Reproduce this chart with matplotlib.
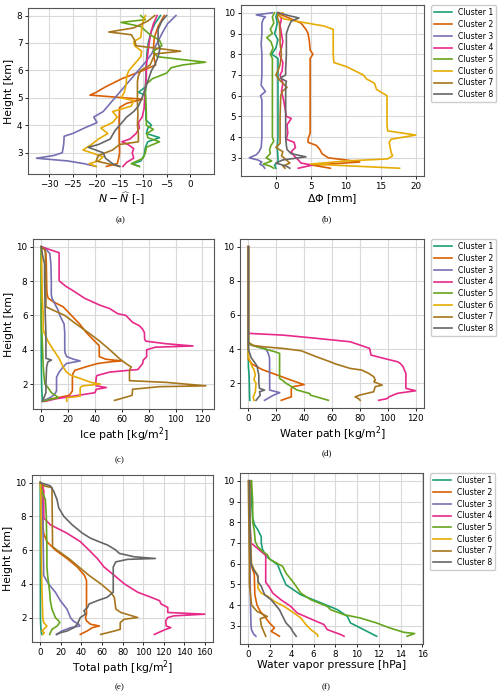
import matplotlib
matplotlib.use('Agg')
import matplotlib.pyplot as plt

# Dark2 palette, one colour per cluster
COLORS = ['#1b9e77', '#d95f02', '#7570b3', '#e7298a',
          '#66a61e', '#e6ab02', '#a6761d', '#666666']
CLUSTERS = ['Cluster %d' % i for i in range(1, 9)]

# (a) N - N_hat [-]
NDIFF_H = [
    [8.0, 7.7, 7.4, 7.0, 6.6, 6.2, 5.8, 5.4, 5.2, 5.1, 4.9, 4.5, 4.2, 4.0, 3.9, 3.7, 3.55, 3.4, 3.2, 2.9, 2.7, 2.6, 2.5],
    [8.0, 7.6, 7.2, 6.8, 6.4, 6.2, 6.0, 5.7, 5.4, 5.2, 5.1, 4.95, 4.8, 4.65, 4.2, 3.5, 3.0, 2.8, 2.6, 2.5],
    [8.0, 7.7, 7.4, 7.0, 6.6, 6.3, 6.0, 5.7, 5.4, 5.1, 4.8, 4.5, 4.3, 4.1, 3.9, 3.7, 3.6, 3.3, 3.0, 2.9, 2.8, 2.7, 2.6, 2.5],
    [8.0, 7.7, 7.4, 7.0, 6.6, 6.2, 5.8, 5.4, 5.0, 4.6, 4.3, 4.1, 3.9, 3.7, 3.5, 3.4, 3.3, 3.15, 3.0, 2.8, 2.65, 2.5],
    [8.0, 7.85, 7.75, 7.6, 7.3, 7.1, 6.9, 6.7, 6.5, 6.3, 6.2, 6.1, 5.9, 5.7, 5.5, 5.2, 4.8, 4.4, 4.0, 3.85, 3.7, 3.55, 3.4, 3.2, 3.0, 2.8, 2.6, 2.5],
    [8.0, 7.8, 7.5, 7.2, 7.05, 6.9, 6.7, 6.5, 6.3, 6.0, 5.8, 5.5, 5.2, 5.0, 4.9, 4.7, 4.5, 4.3, 4.1, 3.9, 3.7, 3.5, 3.3, 3.1, 3.0, 2.85, 2.7, 2.6, 2.5],
    [8.0, 7.8, 7.55, 7.4, 7.3, 7.1, 6.9, 6.7, 6.6, 6.4, 6.2, 6.0, 5.8, 5.6, 5.2, 4.8, 4.4, 4.0, 3.7, 3.4, 3.3, 3.1, 2.9, 2.7, 2.6, 2.5],
    [8.0, 7.8, 7.5, 7.0, 6.8, 6.5, 6.2, 6.0, 5.5, 5.1, 4.7, 4.5, 4.3, 4.0, 3.8, 3.5, 3.3, 3.2, 3.0, 2.8, 2.6, 2.5],
]
NDIFF_X = [
    [-6.3, -7.5, -8.3, -8.9, -9.2, -9.3, -9.4, -9.5, -11.0, -9.5, -9.5, -9.4, -9.4, -8.2, -9.0, -9.3, -6.5, -9.0, -9.5, -9.8, -10.5, -12.3, -10.8],
    [-5.5, -6.8, -7.6, -7.8, -7.6, -7.3, -10.0, -14.5, -18.0, -20.0, -21.3, -10.1, -13.5, -15.0, -15.1, -15.1, -15.0, -15.2, -15.5, -17.8],
    [-3.0, -4.8, -5.8, -7.0, -8.2, -9.5, -11.0, -12.5, -14.0, -15.5, -17.0, -18.5, -20.5, -19.8, -22.5, -25.0, -26.8, -26.9, -27.2, -29.0, -32.7, -26.0, -22.5, -20.0],
    [-7.0, -7.8, -8.3, -8.7, -9.0, -9.3, -9.3, -9.5, -9.6, -9.8, -10.2, -11.0, -10.8, -11.5, -12.8, -14.5, -13.2, -12.0, -12.3, -12.0, -13.5, -14.3],
    [-10.5, -9.5, -14.7, -10.5, -8.5, -6.5, -6.0, -7.8, -7.0, 3.3, -1.5, -4.0, -5.0, -8.0, -9.3, -9.5, -9.4, -9.3, -9.3, -7.8, -9.2, -9.0, -6.5, -9.3, -9.5, -10.0, -12.5, -10.8],
    [-9.5, -10.0, -10.3, -10.5, -12.0, -11.8, -10.3, -10.5, -11.5, -13.0, -13.5, -13.6, -14.0, -14.7, -12.0, -12.5, -16.5, -15.5, -16.5, -19.0, -17.5, -19.5, -21.0, -22.8, -21.0, -18.5, -19.5, -21.5, -20.0],
    [-7.5, -9.0, -12.0, -17.3, -12.5, -11.8, -11.5, -2.0, -7.5, -8.0, -8.5, -10.5, -11.0, -11.2, -11.2, -11.2, -11.1, -11.2, -11.0, -11.0, -15.0, -16.5, -19.5, -20.0, -17.5, -15.0],
    [-5.0, -6.0, -6.8, -6.8, -6.4, -6.8, -7.5, -8.2, -9.2, -10.0, -11.0, -12.0, -13.5, -15.0, -16.0, -17.0, -19.5, -21.7, -18.5, -18.0, -16.5, -15.0],
]

# (b) Delta Phi [mm]
DPHI_H = [
    [10.0, 9.8, 9.5, 9.2, 9.0, 8.7, 8.3, 8.0, 7.8, 7.5, 7.0, 6.0, 5.0, 4.0, 3.5, 3.0, 2.8, 2.65, 2.5],
    [10.0, 9.9, 9.7, 9.5, 9.2, 9.0, 8.6, 8.2, 8.0, 7.8, 7.0, 6.0, 5.0, 4.2, 3.9, 3.75, 3.6, 3.4, 3.2, 3.0, 2.9, 2.8, 2.65, 2.5],
    [10.0, 9.9, 9.8, 9.7, 9.5, 9.0, 8.5, 8.0, 7.0, 6.5, 6.2, 6.0, 5.8, 5.0, 4.0, 3.5, 3.3, 3.15, 3.0, 2.9, 2.8, 2.7, 2.6, 2.5],
    [10.0, 9.7, 9.4, 9.0, 8.6, 8.3, 8.0, 7.6, 7.2, 7.0, 6.6, 6.2, 5.8, 5.4, 5.0, 4.9, 4.6, 4.2, 3.9, 3.75, 3.5, 3.3, 3.1, 2.9, 2.75, 2.65, 2.5],
    [10.0, 9.8, 9.5, 9.2, 9.0, 8.8, 8.6, 8.3, 8.0, 7.8, 7.5, 7.0, 6.0, 5.0, 4.0, 3.8, 3.6, 3.4, 3.2, 3.0, 2.85, 2.7, 2.6, 2.5],
    [10.0, 9.9, 9.7, 9.5, 9.36, 9.2, 8.5, 8.0, 7.6, 7.4, 7.0, 6.8, 6.6, 6.3, 6.0, 5.0, 4.55, 4.3, 4.1, 3.9, 3.75, 3.25, 3.1, 2.95, 2.85, 2.7, 2.5],
    [10.0, 9.8, 9.5, 9.0, 8.5, 8.0, 7.5, 7.2, 7.0, 6.8, 6.6, 6.4, 6.2, 6.0, 5.0, 4.0, 3.7, 3.5, 3.3, 3.1, 2.9, 2.75, 2.6, 2.5],
    [10.0, 9.85, 9.75, 9.6, 9.3, 9.0, 8.0, 7.3, 7.0, 6.85, 6.7, 6.5, 6.0, 5.0, 4.0, 3.6, 3.4, 3.2, 3.05, 2.9, 2.75, 2.6, 2.5],
]
DPHI_X = [
    [0.2, 0.0, 0.2, 0.0, -0.2, 0.3, 0.0, -0.6, 0.3, 0.3, 0.3, 0.3, 0.3, 0.3, 0.2, 0.3, 0.3, -0.2, 0.0],
    [0.3, 0.8, 2.2, 3.6, 4.3, 4.6, 4.8, 4.9, 5.3, 4.9, 4.9, 4.9, 4.9, 4.9, 4.6, 4.6, 5.8, 6.3, 6.6, 7.5, 10.0, 12.0, 5.2, 7.8],
    [-0.5, -2.8, -1.5, -1.8, -2.0, -2.0, -2.1, -2.0, -2.0, -2.1, -1.5, -2.2, -2.0, -2.0, -2.0, -2.1, -2.4, -2.8, -3.8, -2.6, -2.0, -2.3, -1.8, -1.6],
    [0.3, 0.8, 0.6, 0.8, 1.0, 0.8, 0.5, 1.0, 0.9, 0.6, 1.0, 0.8, 1.1, 1.3, 1.5, 2.2, 1.6, 1.7, 1.5, 2.6, 2.8, 2.2, 2.6, 3.2, 3.6, 5.2, 3.2],
    [-0.2, -0.5, -0.3, -0.8, -0.5, -1.3, -0.7, -0.4, -0.8, -0.5, -0.5, -0.5, -0.5, -0.5, -0.5, -0.3, -0.7, -0.9, -0.8, -1.4, -0.6, -1.8, -0.8, -0.3],
    [1.0, 0.3, 1.2, 4.5, 6.9, 8.2, 8.2, 8.2, 8.3, 10.1, 12.5, 13.0, 14.1, 14.4, 15.9, 15.9, 15.9, 16.0, 20.0, 16.5, 16.2, 16.5, 16.7, 16.0, 10.0, 5.0, 17.7],
    [0.5, 0.2, 0.5, 0.6, 0.6, 0.8, 0.6, 0.3, 0.0, 0.4, 1.0, 1.6, 0.9, 0.7, 0.6, 0.6, 0.6, 0.0, 1.0, 0.8, 1.5, 2.0, 1.0, 1.3],
    [0.3, 2.0, 3.3, 2.2, 1.8, 1.5, 1.5, 1.4, 1.4, 0.6, 1.5, 1.4, 1.4, 1.4, 1.4, 1.5, 1.6, 2.2, 4.3, 1.0, 0.0, 1.5, 2.0],
]

# (c) Ice path [kg/m2]
ICE_H = [
    [10, 8, 6, 5, 4, 3, 2, 1.5, 1.2, 1.0],
    [10.0, 9.85, 9.6, 9.0, 8.0, 7.4, 7.2, 7.0, 6.8, 6.5, 6.0, 5.5, 5.0, 4.5, 4.25, 4.2, 3.6, 3.45, 3.35, 3.3, 3.2, 3.0, 2.8, 2.6, 2.3, 1.6, 1.35, 1.25, 1.15, 1.05, 1.0],
    [10.0, 9.9, 9.6, 9.0, 8.0, 7.2, 7.0, 6.7, 6.3, 6.0, 5.5, 5.0, 4.5, 4.0, 3.8, 3.6, 3.45, 3.35, 3.2, 3.0, 2.7, 2.4, 2.0, 1.6, 1.4, 1.2, 1.05, 1.0],
    [10.0, 9.65, 8.1, 8.0, 7.67, 7.5, 7.0, 6.6, 6.4, 6.1, 6.0, 5.6, 5.4, 5.2, 5.0, 4.6, 4.5, 4.35, 4.22, 4.15, 4.0, 3.6, 3.4, 3.2, 2.85, 2.7, 2.5, 2.4, 2.0, 1.9, 1.8, 1.7, 1.5, 1.3, 1.15, 1.0],
    [10, 8, 6, 5.2, 5.0, 4.0, 3.0, 2.5, 2.0, 1.8, 1.5, 1.3, 1.2, 1.1, 1.0],
    [10.0, 9.5, 9.0, 8.0, 7.0, 6.0, 5.2, 5.0, 4.5, 4.0, 3.5, 3.0, 2.7, 2.5, 2.3, 2.1, 2.0, 1.9, 1.8, 1.3, 1.2, 1.0],
    [10.0, 9.8, 9.0, 8.0, 7.0, 6.5, 6.3, 6.0, 5.5, 5.0, 4.5, 4.0, 3.5, 3.2, 3.0, 2.8, 2.2, 2.1, 1.9, 1.85, 1.7, 1.35, 1.3, 1.05],
    [10.0, 9.5, 9.0, 8.0, 6.0, 5.0, 4.0, 3.5, 3.4, 3.3, 3.0, 2.0, 1.5, 1.2, 1.0],
]
ICE_X = [
    [0, 0, 0, 0, 0, 0.1, 0.3, 0.5, 0.8, 1.0],
    [0, 2.5, 3.5, 3.8, 4.0, 4.2, 4.5, 5.2, 8.9, 16.3, 22.5, 28.6, 33.6, 39.8, 43.0, 43.2, 43.2, 48.0, 60.0, 52.0, 42.0, 33.0, 25.0, 23.5, 23.2, 23.2, 21.0, 15.0, 8.0, 4.0, 2.7],
    [0, 3.0, 6.4, 7.2, 7.5, 7.5, 8.0, 10.0, 12.6, 13.8, 17.0, 17.5, 17.5, 17.5, 17.8, 19.0, 24.0, 29.0, 18.8, 16.3, 13.3, 11.4, 11.4, 11.4, 10.0, 6.4, 2.0, 1.0],
    [0, 13.3, 13.3, 13.5, 18.8, 22.5, 32.3, 43.5, 50.9, 57.0, 63.0, 68.0, 73.0, 75.5, 76.8, 77.0, 78.0, 93.0, 113.0, 85.0, 78.5, 78.5, 76.0, 75.5, 72.0, 51.0, 41.5, 41.0, 40.5, 41.0, 48.5, 41.0, 40.0, 23.7, 11.4, 3.0],
    [0, 0, 0, 0.2, 0.5, 1.0, 1.5, 2.0, 2.7, 5.0, 7.6, 11.4, 12.6, 6.0, 1.0],
    [0, 0.5, 0.3, 0.5, 0.8, 1.5, 1.5, 2.2, 5.0, 9.0, 13.3, 16.3, 18.8, 22.5, 30.0, 37.0, 44.0, 31.0, 29.0, 29.0, 18.8, 19.0],
    [0, 3.0, 3.3, 3.5, 3.5, 3.5, 9.0, 17.5, 26.0, 35.0, 43.5, 51.0, 58.0, 63.0, 67.0, 65.7, 65.7, 93.0, 122.5, 88.0, 68.0, 67.7, 65.7, 54.6],
    [0, 1.0, 2.5, 2.5, 3.0, 3.5, 3.5, 3.5, 7.6, 5.0, 4.0, 3.5, 3.5, 2.0, 1.0],
]

# (d) Water path [kg/m2]
WATER_H = [
    [10, 3.0, 2.5, 2.0, 1.5, 1.0],
    [10, 3.4, 3.1, 2.8, 2.5, 2.2, 2.0, 1.92, 1.8, 1.7, 1.2, 1.1, 1.0],
    [10, 4.3, 4.1, 4.0, 3.8, 3.5, 1.6, 1.45, 1.3, 1.0],
    [10, 5.0, 4.92, 4.82, 4.63, 4.43, 4.24, 4.04, 3.65, 3.46, 3.26, 3.16, 2.97, 2.77, 2.58, 1.7, 1.56, 1.41, 1.21, 1.1, 1.0],
    [10, 4.4, 4.24, 3.85, 3.75, 3.55, 2.28, 2.2, 2.0, 1.8, 1.6, 1.4, 1.3, 1.2, 1.0],
    [10, 3.5, 3.36, 3.0, 2.8, 2.5, 2.2, 2.0, 1.5, 1.2, 1.0],
    [10, 4.4, 4.3, 4.22, 4.14, 4.04, 3.9, 3.55, 3.26, 3.12, 2.87, 2.77, 2.58, 2.38, 2.19, 2.09, 1.89, 1.8, 1.5, 1.31, 1.2, 1.1, 1.0],
    [10, 4.0, 3.5, 3.16, 2.97, 2.77, 2.5, 2.0, 1.7, 1.6, 1.5, 1.3, 1.0],
]
WATER_X = [
    [0, 0, 0.5, 0.7, 0.8, 1.0],
    [0, 0, 3, 10, 20, 30, 37, 40, 32, 30.8, 30.8, 27, 23.6],
    [0, 0, 8, 12.5, 14, 15.2, 15.3, 22.5, 18, 11.6],
    [0, 0, 0.7, 24.8, 49, 73, 80, 87, 88, 97, 107, 109, 111, 112, 113, 113, 120, 107, 101, 99.5, 93.5],
    [0, 0, 1.9, 18.8, 22.4, 22.4, 22.4, 24, 27, 31, 35, 44, 44.6, 49, 57.4],
    [0, 0, 1, 2.5, 4, 5, 4, 5.5, 5, 3.5, 4],
    [0, 0, 2, 3, 10.4, 24.8, 38, 48.9, 58.6, 63, 73, 81.4, 86.3, 90, 91, 90, 96, 91, 89.9, 80, 76.6, 79, 80.2],
    [0, 0, 2, 5, 6.5, 6.7, 7.5, 7.5, 8, 11.6, 8, 8.5, 5.5],
]

# (e) Total path [kg/m2]
TOTAL_H = [
    [10, 2.0, 1.5, 1.2, 1.0],
    [10.0, 9.8, 9.5, 9.0, 7.5, 7.0, 6.5, 6.0, 5.5, 5.0, 4.5, 4.2, 2.2, 2.0, 1.8, 1.6, 1.5, 1.4, 1.25, 1.0],
    [10.0, 9.5, 8.0, 6.0, 5.0, 4.5, 4.0, 3.5, 3.0, 2.5, 2.0, 1.8, 1.6, 1.5, 1.4, 1.2, 1.0],
    [10.0, 9.8, 9.5, 7.9, 7.5, 7.0, 6.5, 6.0, 5.5, 5.0, 4.5, 4.0, 3.5, 3.2, 3.0, 2.8, 2.6, 2.3, 2.2, 2.1, 2.0, 1.8, 1.5, 1.4, 1.3, 1.0],
    [10.0, 9.5, 9.0, 8.0, 6.0, 5.0, 4.5, 4.0, 3.5, 3.0, 2.5, 2.0, 1.8, 1.7, 1.5, 1.3, 1.0],
    [10.0, 9.5, 8.0, 6.0, 4.0, 3.0, 2.0, 1.7, 1.5, 1.4, 1.2, 1.1, 1.0],
    [10.0, 9.8, 9.7, 6.2, 6.0, 5.5, 5.0, 4.5, 4.0, 3.5, 3.2, 3.0, 2.5, 2.3, 2.0, 1.9, 1.7, 1.3, 1.2, 1.0],
    [10.0, 9.9, 9.8, 9.5, 9.0, 8.5, 8.0, 7.5, 7.0, 6.7, 6.5, 6.3, 6.0, 5.8, 5.6, 5.5, 5.45, 5.3, 5.0, 3.5, 3.2, 3.0, 2.8, 2.6, 2.4, 2.2, 2.0, 1.6, 1.4, 1.2, 1.1, 1.0],
]
TOTAL_X = [
    [0, 0.2, 0.5, 1.0, 1.5],
    [0, 2.5, 3.3, 2.6, 2.6, 3.3, 6.5, 14.7, 26.0, 36.0, 43.0, 45.0, 45.0, 44.0, 45.0, 49.0, 57.5, 50.6, 47.0, 39.0],
    [0, 1.0, 2.5, 3.0, 3.3, 3.3, 8.0, 14.7, 19.6, 26.0, 29.4, 32.0, 37.6, 38.6, 29.4, 21.0, 15.7],
    [0, 2.0, 3.3, 3.5, 9.8, 26.0, 39.0, 47.4, 55.5, 62.0, 72.0, 81.7, 94.8, 107.8, 116.0, 117.6, 124.0, 124.0, 160.0, 130.0, 124.0, 122.0, 122.5, 127.0, 122.0, 111.0],
    [0, 1.6, 5.0, 5.9, 6.5, 6.5, 7.2, 8.2, 9.2, 9.8, 11.4, 14.7, 18.0, 19.0, 16.5, 11.4, 9.2],
    [0, 0.5, 0.8, 1.0, 1.5, 2.0, 2.5, 3.3, 6.5, 5.0, 1.6, 4.0, 2.6],
    [0, 4.0, 11.4, 12.0, 16.3, 27.8, 37.6, 47.4, 58.8, 68.6, 72.0, 72.5, 73.5, 78.4, 94.8, 81.7, 77.8, 77.8, 72.0, 58.8],
    [0, 5.0, 10.0, 13.0, 16.3, 18.0, 22.9, 31.0, 41.0, 49.0, 57.0, 65.4, 73.5, 77.0, 91.5, 112.0, 85.0, 73.5, 71.0, 71.0, 65.0, 55.5, 47.4, 46.0, 42.5, 44.0, 39.0, 36.0, 32.7, 26.0, 19.6, 16.3],
]

# (f) Water vapour pressure [hPa]
VAPOR_H = [
    [10, 9.0, 8.2, 7.87, 7.63, 7.3, 7.0, 6.7, 6.35, 5.95, 5.54, 4.98, 4.5, 4.18, 3.78, 3.46, 3.14, 2.9, 2.58, 2.5],
    [10, 8, 6, 5.5, 4.5, 4.0, 3.7, 3.46, 3.14, 2.9, 2.74, 2.5],
    [10, 8, 6, 4, 3.0, 2.8, 2.6, 2.5],
    [10, 8, 7.0, 6.8, 6.6, 6.4, 5.1, 4.9, 4.58, 4.26, 3.94, 3.62, 3.3, 3.06, 2.82, 2.58, 2.5],
    [10, 9.0, 8.0, 7.6, 7.07, 6.83, 6.6, 6.43, 6.22, 5.87, 5.54, 5.06, 4.58, 4.26, 3.94, 3.78, 3.54, 3.38, 3.14, 2.9, 2.69, 2.63, 2.5],
    [10, 8, 6, 5.7, 5.5, 5.2, 4.82, 4.58, 4.42, 4.18, 3.94, 3.62, 3.38, 3.06, 2.82, 2.58, 2.5],
    [10, 8, 6, 5.0, 4.0, 3.7, 3.45, 3.35, 3.0, 2.75, 2.5],
    [10, 8, 6, 5.7, 5.4, 5.14, 4.9, 4.5, 4.26, 3.78, 3.46, 3.14, 2.9, 2.74, 2.5],
]
VAPOR_X = [
    [0.2, 0.3, 0.4, 0.58, 0.88, 1.19, 1.19, 1.3, 1.64, 2.7, 3.0, 3.47, 4.83, 6.35, 8.2, 9.1, 9.4, 10.3, 11.5, 11.8],
    [0.1, 0.15, 0.2, 0.55, 0.6, 0.8, 1.1, 1.49, 1.95, 2.4, 2.1, 2.86],
    [0.05, 0.1, 0.15, 0.2, 0.25, 0.3, 0.5, 0.7],
    [0.1, 0.15, 0.24, 0.7, 1.15, 1.6, 1.6, 1.9, 2.25, 3.0, 3.9, 4.5, 5.9, 6.96, 7.26, 8.5, 8.8],
    [0.3, 0.4, 0.4, 0.55, 0.64, 0.85, 1.3, 1.75, 1.95, 3.16, 3.47, 4.2, 4.83, 5.75, 7.26, 7.57, 8.8, 10.3, 11.8, 13.0, 14.3, 15.3, 14.6],
    [0.1, 0.15, 0.3, 0.55, 0.8, 0.9, 0.88, 1.19, 1.8, 2.4, 3.3, 4.2, 4.83, 5.3, 5.75, 6.35, 6.4],
    [0.0, 0.05, 0.1, 0.1, 0.3, 0.8, 1.75, 1.1, 1.2, 1.4, 1.6],
    [0.1, 0.15, 0.25, 0.5, 0.9, 0.88, 1.2, 1.5, 2.1, 2.86, 3.16, 3.47, 3.9, 4.07, 4.4],
]

W, H = 500, 696


def box(left, top, right, bottom):
    """pixel box -> figure fraction rect"""
    return [left / W, 1 - bottom / H, (right - left) / W, (bottom - top) / H]


def draw(ax, hs, xs, xlabel, ylabel=None, legend=False, yticks=None, xticks=None):
    for h, x, c, lab in zip(hs, xs, COLORS, CLUSTERS):
        ax.plot(x, h, color=c, linewidth=1.2, label=lab)
    ax.grid(True, color='#d9d9d9', linewidth=0.8)
    ax.set_axisbelow(True)
    ax.tick_params(labelsize=6.3, length=2.5, width=0.6, pad=1.5)
    for s in ax.spines.values():
        s.set_color('#555555')
        s.set_linewidth(0.8)
    ax.set_xlabel(xlabel, fontsize=7.8, labelpad=1)
    if ylabel:
        ax.set_ylabel(ylabel, fontsize=7.8, labelpad=2)
    if yticks is not None:
        ax.set_yticks(yticks)
    if xticks is not None:
        ax.set_xticks(xticks)
    if legend:
        ax.legend(loc='upper left', bbox_to_anchor=(1.04, 1.0), borderaxespad=0,
                  fontsize=5.6, handlelength=2.2, labelspacing=0.35,
                  borderpad=0.4, framealpha=1, edgecolor='#cccccc')


fig = plt.figure(figsize=(W / 100, H / 100), dpi=100)

ax_a = fig.add_axes(box(28, 8, 214, 174))
draw(ax_a, NDIFF_H, NDIFF_X, r'$N - \widehat{N}$ [-]', 'Height [km]',
     yticks=[3, 4, 5, 6, 7, 8], xticks=[-30, -25, -20, -15, -10, -5, 0])

ax_b = fig.add_axes(box(241, 5, 424, 176))
draw(ax_b, DPHI_H, DPHI_X, r'$\Delta\Phi$ [mm]', legend=True,
     yticks=[3, 4, 5, 6, 7, 8, 9, 10], xticks=[0, 5, 10, 15, 20])

ax_c = fig.add_axes(box(33, 239, 214, 409))
draw(ax_c, ICE_H, ICE_X, r'Ice path [kg/m$^2$]', 'Height [km]',
     yticks=[2, 4, 6, 8, 10], xticks=[0, 20, 40, 60, 80, 100, 120])

ax_d = fig.add_axes(box(240, 239, 424, 408))
draw(ax_d, WATER_H, WATER_X, r'Water path [kg/m$^2$]', legend=True,
     yticks=[2, 4, 6, 8, 10], xticks=[0, 20, 40, 60, 80, 100, 120])

ax_e = fig.add_axes(box(32, 475, 213, 642))
draw(ax_e, TOTAL_H, TOTAL_X, r'Total path [kg/m$^2$]', 'Height [km]',
     yticks=[2, 4, 6, 8, 10], xticks=[0, 20, 40, 60, 80, 100, 120, 140, 160])

ax_f = fig.add_axes(box(240, 473, 423, 644))
draw(ax_f, VAPOR_H, VAPOR_X, 'Water vapor pressure [hPa]', legend=True,
     yticks=[3, 4, 5, 6, 7, 8, 9, 10], xticks=[0, 2, 4, 6, 8, 10, 12, 14, 16])

# sub-figure captions
for lab, px, py in [('(a)', 121, 220), ('(b)', 327, 219), ('(c)', 120, 460),
                    ('(d)', 327, 453), ('(e)', 120, 687), ('(f)', 326, 687)]:
    fig.text(px / W, 1 - py / H, lab, ha='center', va='center',
             fontsize=6.5, family='Liberation Serif')

fig.savefig('out.png', dpi=100, facecolor='white')
